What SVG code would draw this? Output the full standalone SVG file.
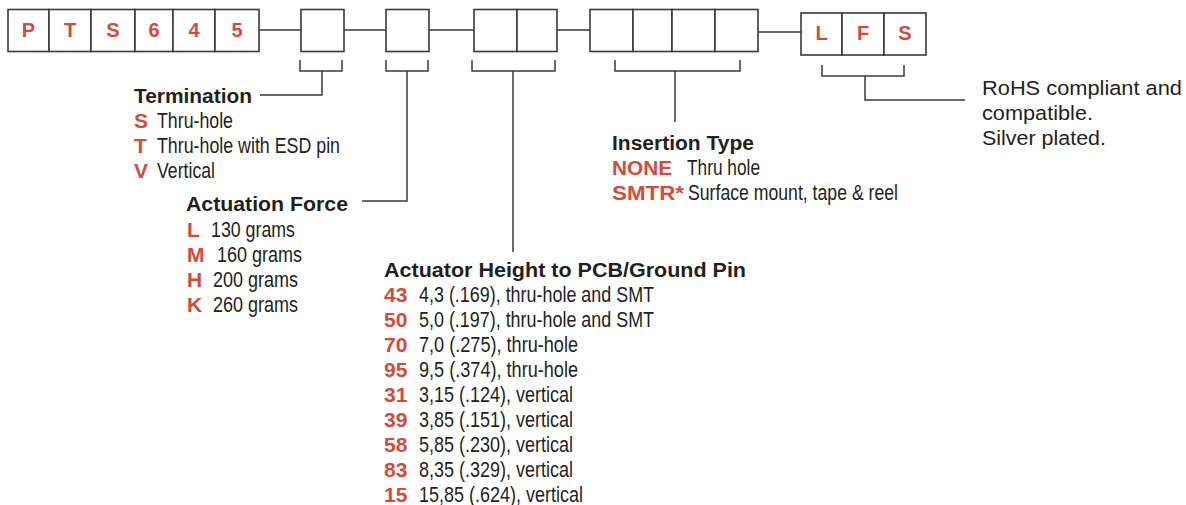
<svg xmlns="http://www.w3.org/2000/svg" width="1186" height="505" viewBox="0 0 1186 505">
<style>
.box{fill:#fff;stroke:#3a3a3a;stroke-width:1.6}
.ln{fill:none;stroke:#3a3a3a;stroke-width:1.5}
.bl{font-family:"Liberation Sans",Arial,sans-serif;font-weight:bold;font-size:20px;fill:#d64a3b;text-anchor:middle}
.red{font-family:"Liberation Sans",Arial,sans-serif;font-weight:bold;font-size:21px;fill:#d64a3b}
.ttl{font-family:"Liberation Sans",Arial,sans-serif;font-weight:bold;font-size:20px;fill:#231f20}
.txt{font-family:"Liberation Sans",Arial,sans-serif;font-size:21.5px;fill:#231f20}
.rt{font-family:"Liberation Sans",Arial,sans-serif;font-size:20.5px;fill:#231f20}
</style>
<rect width="1186" height="505" fill="#fff"/>
<g id="connectors">
<path class="ln" d="M259,30H301M344,30H386M429,30H474M557,30H590M758,32H801"/>
<path class="ln" d="M300,60V71H342V60M322,71V95H260"/>
<path class="ln" d="M386,60V71H428V60M407,71V201H362"/>
<path class="ln" d="M472,60V71H555V60M513,71V252"/>
<path class="ln" d="M615,60V71H740V60M675,71V122"/>
<path class="ln" d="M822,65V76H904V65M865,76V100H965"/>
</g>
<g id="prefix">
<rect class="box" x="8" y="9.5" width="41" height="42"/>
<rect class="box" x="49" y="9.5" width="42" height="42"/>
<rect class="box" x="91" y="9.5" width="44" height="42"/>
<rect class="box" x="135" y="9.5" width="38" height="42"/>
<rect class="box" x="173" y="9.5" width="42" height="42"/>
<rect class="box" x="215" y="9.5" width="44" height="42"/>
<text class="bl" x="28.5" y="36.5">P</text>
<text class="bl" x="70" y="36.5">T</text>
<text class="bl" x="113" y="36.5">S</text>
<text class="bl" x="154" y="36.5">6</text>
<text class="bl" x="194" y="36.5">4</text>
<text class="bl" x="237" y="36.5">5</text>
</g>
<g id="box-termination"><rect class="box" x="301" y="9.5" width="43" height="42"/></g>
<g id="box-force"><rect class="box" x="386" y="9.5" width="43" height="42"/></g>
<g id="box-height">
<rect class="box" x="474" y="9.5" width="43" height="42"/>
<rect class="box" x="517" y="9.5" width="40" height="42"/>
</g>
<g id="box-insertion">
<rect class="box" x="590" y="9.5" width="43" height="42"/>
<rect class="box" x="633" y="9.5" width="39" height="42"/>
<rect class="box" x="672" y="9.5" width="43" height="42"/>
<rect class="box" x="715" y="9.5" width="43" height="42"/>
</g>
<g id="suffix">
<rect class="box" x="801" y="13" width="41" height="42"/>
<rect class="box" x="842" y="13" width="42" height="42"/>
<rect class="box" x="884" y="13" width="42" height="42"/>
<text class="bl" x="821.5" y="40">L</text>
<text class="bl" x="863" y="40">F</text>
<text class="bl" x="905" y="40">S</text>
</g>
<g id="termination">
<text class="ttl" x="134" y="103" textLength="118" lengthAdjust="spacingAndGlyphs">Termination</text>
<text class="red" x="134" y="128">S</text>
<text class="txt" x="157" y="128" textLength="76" lengthAdjust="spacingAndGlyphs">Thru-hole</text>
<text class="red" x="134" y="153">T</text>
<text class="txt" x="157" y="153" textLength="183" lengthAdjust="spacingAndGlyphs">Thru-hole with ESD pin</text>
<text class="red" x="134" y="178">V</text>
<text class="txt" x="157" y="178" textLength="58" lengthAdjust="spacingAndGlyphs">Vertical</text>
</g>
<g id="actuation-force">
<text class="ttl" x="186" y="211" textLength="162" lengthAdjust="spacingAndGlyphs">Actuation Force</text>
<text class="red" x="187" y="237">L</text>
<text class="txt" x="211" y="237" textLength="84" lengthAdjust="spacingAndGlyphs">130 grams</text>
<text class="red" x="187" y="262">M</text>
<text class="txt" x="217" y="262" textLength="85" lengthAdjust="spacingAndGlyphs">160 grams</text>
<text class="red" x="187" y="287">H</text>
<text class="txt" x="213" y="287" textLength="85" lengthAdjust="spacingAndGlyphs">200 grams</text>
<text class="red" x="187" y="312">K</text>
<text class="txt" x="213" y="312" textLength="85" lengthAdjust="spacingAndGlyphs">260 grams</text>
</g>
<g id="actuator-height">
<text class="ttl" x="384" y="277" textLength="362" lengthAdjust="spacingAndGlyphs">Actuator Height to PCB/Ground Pin</text>
<text class="red" x="384" y="302">43</text>
<text class="txt" x="419" y="302" textLength="235" lengthAdjust="spacingAndGlyphs">4,3 (.169), thru-hole and SMT</text>
<text class="red" x="384" y="327">50</text>
<text class="txt" x="419" y="327" textLength="235" lengthAdjust="spacingAndGlyphs">5,0 (.197), thru-hole and SMT</text>
<text class="red" x="384" y="352">70</text>
<text class="txt" x="419" y="352" textLength="159" lengthAdjust="spacingAndGlyphs">7,0 (.275), thru-hole</text>
<text class="red" x="384" y="377">95</text>
<text class="txt" x="419" y="377" textLength="159" lengthAdjust="spacingAndGlyphs">9,5 (.374), thru-hole</text>
<text class="red" x="384" y="402">31</text>
<text class="txt" x="419" y="402" textLength="154" lengthAdjust="spacingAndGlyphs">3,15 (.124), vertical</text>
<text class="red" x="384" y="427">39</text>
<text class="txt" x="419" y="427" textLength="154" lengthAdjust="spacingAndGlyphs">3,85 (.151), vertical</text>
<text class="red" x="384" y="452">58</text>
<text class="txt" x="419" y="452" textLength="154" lengthAdjust="spacingAndGlyphs">5,85 (.230), vertical</text>
<text class="red" x="384" y="477">83</text>
<text class="txt" x="419" y="477" textLength="154" lengthAdjust="spacingAndGlyphs">8,35 (.329), vertical</text>
<text class="red" x="384" y="502">15</text>
<text class="txt" x="419" y="502" textLength="164" lengthAdjust="spacingAndGlyphs">15,85 (.624), vertical</text>
</g>
<g id="insertion-type">
<text class="ttl" x="612" y="150" textLength="142" lengthAdjust="spacingAndGlyphs">Insertion Type</text>
<text class="red" x="612" y="175" textLength="60" lengthAdjust="spacingAndGlyphs">NONE</text>
<text class="txt" x="687" y="175" textLength="73" lengthAdjust="spacingAndGlyphs">Thru hole</text>
<text class="red" x="612" y="200" textLength="72" lengthAdjust="spacingAndGlyphs">SMTR*</text>
<text class="txt" x="688" y="200" textLength="210" lengthAdjust="spacingAndGlyphs">Surface mount, tape &amp; reel</text>
</g>
<g id="rohs">
<text class="rt" x="982" y="95" textLength="200" lengthAdjust="spacingAndGlyphs">RoHS compliant and</text>
<text class="rt" x="982" y="120" textLength="111" lengthAdjust="spacingAndGlyphs">compatible.</text>
<text class="rt" x="982" y="145" textLength="124" lengthAdjust="spacingAndGlyphs">Silver plated.</text>
</g>
</svg>
